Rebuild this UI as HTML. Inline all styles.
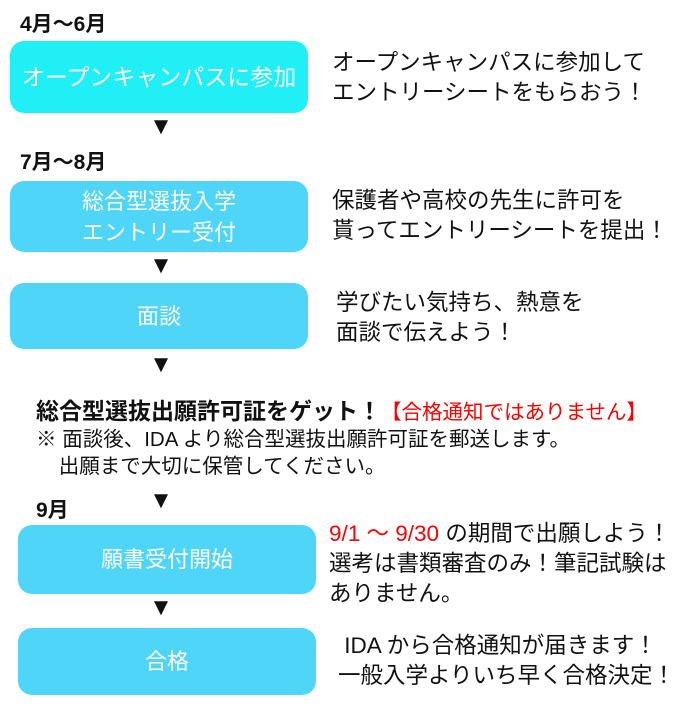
<!DOCTYPE html>
<html><head><meta charset="utf-8"><style>
body{margin:0;width:700px;height:709px;background:#fff;position:relative;overflow:hidden;font-family:"Liberation Sans","Noto Sans CJK JP",sans-serif;color:#111}
div{position:absolute;white-space:nowrap}
.box{border-radius:14px;color:#fff;display:flex;align-items:center;justify-content:center;text-align:center;line-height:31px;font-size:22px}
.lbl{font-size:21px;font-weight:bold}
.t{font-size:22.5px;line-height:30px}
.arr{font-size:24px;width:30px;text-align:center;line-height:24px}
.red{color:#f00}
</style></head><body>
<div class="lbl" style="left:20px;top:8px">4月〜6月</div>
<div class="box" style="left:10px;top:41px;width:298px;height:72px;background:#20F0F5;font-size:23px">オープンキャンパスに参加</div>
<div class="t" style="left:332px;top:48px">オープンキャンパスに参加して<br>エントリーシートをもらおう！</div>
<div class="arr" style="left:146px;top:115px">▼</div>

<div class="lbl" style="left:20px;top:146px">7月〜8月</div>
<div class="box" style="left:10px;top:181px;width:298px;height:71px;background:#4FD5F8">総合型選抜入学<br>エントリー受付</div>
<div class="t" style="left:332px;top:186px">保護者や高校の先生に許可を<br>貰ってエントリーシートを提出！</div>
<div class="arr" style="left:146px;top:254px">▼</div>

<div class="box" style="left:10px;top:283px;width:298px;height:66px;background:#4FD5F8">面談</div>
<div class="t" style="left:336px;top:288px">学びたい気持ち、熱意を<br>面談で伝えよう！</div>
<div class="arr" style="left:146px;top:353px">▼</div>

<div style="left:36px;top:392px;font-size:23px;font-weight:bold">総合型選抜出願許可証をゲット！<span class="red" style="font-weight:normal;font-size:20.5px">【合格通知ではありません】</span></div>
<div style="left:36px;top:426px;font-size:20.5px;line-height:27px">※ 面談後、IDA より総合型選抜出願許可証を郵送します。<br>&nbsp;&nbsp;&nbsp;&nbsp;出願まで大切に保管してください。</div>
<div class="arr" style="left:146px;top:489px">▼</div>
<div class="lbl" style="left:36px;top:494px">9月</div>

<div class="box" style="left:18px;top:525px;width:298px;height:69px;background:#4FD5F8">願書受付開始</div>
<div class="t" style="left:329px;top:519px"><span class="red">9/1 〜 9/30</span> の期間で出願しよう！<br>選考は書類審査のみ！筆記試験は<br>ありません。</div>
<div class="arr" style="left:146px;top:596px">▼</div>

<div class="box" style="left:18px;top:628px;width:298px;height:67px;background:#4FD5F8">合格</div>
<div class="t" style="left:338px;top:631px">&nbsp;IDA から合格通知が届きます！<br>一般入学よりいち早く合格決定！</div>
</body></html>
